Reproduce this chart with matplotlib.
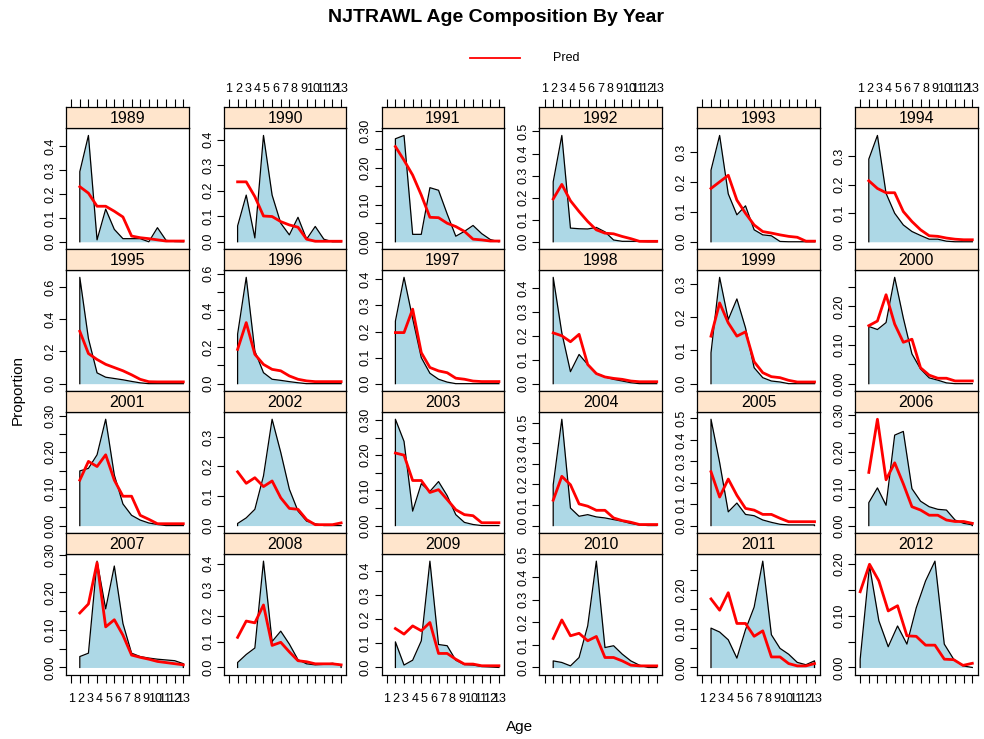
import numpy as np
import matplotlib
matplotlib.use("Agg")
import matplotlib.pyplot as plt
from matplotlib.lines import Line2D

plt.rcParams['font.family'] = ['Liberation Sans', 'DejaVu Sans']

years = [1989, 1990, 1991, 1992, 1993, 1994,
         1995, 1996, 1997, 1998, 1999, 2000,
         2001, 2002, 2003, 2004, 2005, 2006,
         2007, 2008, 2009, 2010, 2011, 2012]

# observed proportions at age (shaded polygon)
obs = [
    [0.294, 0.446, 0.008, 0.137, 0.052, 0.013, 0.013, 0.013, 0.0, 0.059, 0.006, 0.001, 0.0],
    [0.062, 0.183, 0.015, 0.417, 0.183, 0.073, 0.027, 0.096, 0.010, 0.060, 0.010, 0.0, 0.0],
    [0.278, 0.287, 0.02, 0.02, 0.146, 0.139, 0.075, 0.015, 0.028, 0.044, 0.022, 0.006, 0.0],
    [0.272, 0.482, 0.062, 0.059, 0.058, 0.065, 0.045, 0.008, 0.002, 0.002, 0.002, 0.0, 0.0],
    [0.239, 0.355, 0.16, 0.09, 0.12, 0.04, 0.023, 0.02, 0.001, 0.0, 0.0, 0.0, 0.0],
    [0.29, 0.373, 0.17, 0.1, 0.059, 0.036, 0.022, 0.009, 0.009, 0.002, 0.0, 0.0, 0.0],
    [0.66, 0.28, 0.067, 0.04, 0.032, 0.024, 0.014, 0.005, 0.0, 0.0, 0.0, 0.0, 0.0],
    [0.27, 0.58, 0.178, 0.06, 0.024, 0.018, 0.011, 0.005, 0.0, 0.0, 0.0, 0.0, 0.0],
    [0.24, 0.408, 0.25, 0.1, 0.04, 0.017, 0.006, 0.0, 0.0, 0.0, 0.0, 0.0, 0.0],
    [0.444, 0.212, 0.05, 0.122, 0.08, 0.043, 0.028, 0.018, 0.011, 0.004, 0.0, 0.0, 0.0],
    [0.093, 0.32, 0.193, 0.255, 0.168, 0.048, 0.018, 0.008, 0.005, 0.0, 0.0, 0.0, 0.0],
    [0.148, 0.14, 0.158, 0.275, 0.17, 0.077, 0.038, 0.015, 0.009, 0.002, 0.0, 0.0, 0.0],
    [0.149, 0.156, 0.193, 0.29, 0.138, 0.059, 0.028, 0.015, 0.007, 0.003, 0.0, 0.0, 0.0],
    [0.007, 0.026, 0.055, 0.168, 0.36, 0.248, 0.123, 0.049, 0.015, 0.006, 0.0, 0.0, 0.0],
    [0.302, 0.239, 0.041, 0.119, 0.097, 0.125, 0.085, 0.031, 0.009, 0.003, 0.0, 0.0, 0.0],
    [0.198, 0.516, 0.085, 0.045, 0.053, 0.042, 0.037, 0.029, 0.021, 0.01, 0.003, 0.0, 0.0],
    [0.496, 0.294, 0.064, 0.105, 0.052, 0.046, 0.026, 0.015, 0.006, 0.003, 0.003, 0.003, 0.003],
    [0.062, 0.102, 0.055, 0.245, 0.255, 0.1, 0.066, 0.051, 0.044, 0.042, 0.015, 0.006, 0.002],
    [0.029, 0.038, 0.283, 0.156, 0.27, 0.117, 0.038, 0.029, 0.025, 0.022, 0.02, 0.018, 0.01],
    [0.019, 0.05, 0.075, 0.41, 0.1, 0.14, 0.09, 0.03, 0.014, 0.01, 0.012, 0.016, 0.01],
    [0.106, 0.01, 0.03, 0.11, 0.44, 0.095, 0.09, 0.03, 0.012, 0.01, 0.004, 0.002, 0.0],
    [0.029, 0.022, 0.007, 0.044, 0.184, 0.47, 0.088, 0.096, 0.059, 0.029, 0.01, 0.0, 0.0],
    [0.101, 0.091, 0.071, 0.024, 0.097, 0.155, 0.273, 0.084, 0.049, 0.034, 0.013, 0.007, 0.017],
    [0.016, 0.196, 0.09, 0.04, 0.08, 0.045, 0.115, 0.167, 0.205, 0.045, 0.016, 0.003, 0.0],
]

# predicted proportions at age (red line)
pred = [
    [0.231, 0.204, 0.149, 0.149, 0.128, 0.104, 0.024, 0.017, 0.013, 0.008, 0.003, 0.003, 0.003],
    [0.235, 0.235, 0.177, 0.101, 0.099, 0.079, 0.066, 0.057, 0.010, 0.002, 0.002, 0.002, 0.002],
    [0.257, 0.22, 0.18, 0.126, 0.066, 0.065, 0.05, 0.041, 0.028, 0.007, 0.005, 0.002, 0.002],
    [0.194, 0.26, 0.186, 0.137, 0.092, 0.054, 0.039, 0.036, 0.024, 0.014, 0.002, 0.002, 0.002],
    [0.178, 0.2, 0.222, 0.139, 0.095, 0.056, 0.034, 0.029, 0.023, 0.018, 0.015, 0.002, 0.002],
    [0.214, 0.187, 0.172, 0.172, 0.106, 0.071, 0.042, 0.021, 0.019, 0.013, 0.009, 0.007, 0.007],
    [0.325, 0.187, 0.15, 0.12, 0.10, 0.08, 0.055, 0.027, 0.012, 0.011, 0.011, 0.011, 0.011],
    [0.187, 0.333, 0.16, 0.105, 0.078, 0.07, 0.042, 0.024, 0.015, 0.011, 0.011, 0.011, 0.011],
    [0.196, 0.196, 0.286, 0.119, 0.062, 0.049, 0.042, 0.021, 0.017, 0.01, 0.008, 0.008, 0.008],
    [0.212, 0.2, 0.175, 0.206, 0.08, 0.042, 0.028, 0.022, 0.018, 0.011, 0.008, 0.008, 0.008],
    [0.143, 0.243, 0.183, 0.143, 0.156, 0.066, 0.033, 0.021, 0.018, 0.01, 0.005, 0.005, 0.005],
    [0.15, 0.162, 0.23, 0.154, 0.107, 0.115, 0.041, 0.022, 0.014, 0.014, 0.007, 0.007, 0.007],
    [0.124, 0.175, 0.161, 0.193, 0.124, 0.08, 0.08, 0.028, 0.017, 0.005, 0.005, 0.005, 0.005],
    [0.182, 0.143, 0.162, 0.132, 0.151, 0.094, 0.058, 0.055, 0.02, 0.003, 0.003, 0.003, 0.009],
    [0.206, 0.2, 0.128, 0.128, 0.094, 0.102, 0.074, 0.045, 0.031, 0.028, 0.008, 0.008, 0.008],
    [0.123, 0.239, 0.198, 0.105, 0.094, 0.074, 0.074, 0.037, 0.024, 0.016, 0.005, 0.005, 0.005],
    [0.251, 0.133, 0.217, 0.141, 0.08, 0.072, 0.052, 0.052, 0.034, 0.018, 0.018, 0.018, 0.018],
    [0.144, 0.288, 0.124, 0.17, 0.113, 0.051, 0.042, 0.028, 0.028, 0.015, 0.011, 0.011, 0.006],
    [0.145, 0.169, 0.279, 0.108, 0.127, 0.086, 0.033, 0.027, 0.022, 0.016, 0.013, 0.01, 0.007],
    [0.116, 0.179, 0.172, 0.241, 0.085, 0.097, 0.06, 0.026, 0.022, 0.014, 0.014, 0.014, 0.01],
    [0.161, 0.138, 0.172, 0.152, 0.186, 0.058, 0.058, 0.034, 0.014, 0.014, 0.007, 0.007, 0.007],
    [0.128, 0.21, 0.14, 0.151, 0.118, 0.137, 0.044, 0.044, 0.029, 0.01, 0.007, 0.007, 0.007],
    [0.176, 0.147, 0.192, 0.113, 0.113, 0.08, 0.094, 0.027, 0.027, 0.01, 0.004, 0.004, 0.01],
    [0.146, 0.199, 0.167, 0.109, 0.119, 0.061, 0.06, 0.043, 0.043, 0.016, 0.015, 0.004, 0.008],
]

ages = list(range(1, 14))
age_ticks = list(range(0, 14))
age_labels = [str(a) for a in range(1, 14)]

W, H = 984, 739
fig = plt.figure(figsize=(W / 100, H / 100), dpi=100)


def rect(x0, y0, w, h):
    return [x0 / W, 1 - (y0 + h) / H, w / W, h / H]


def pretty_step(lo, hi, n=5):
    # R's pretty() unit selection
    cell = (hi - lo) / n
    U = 10 ** np.floor(np.log10(cell))
    unit = U
    if 2 * U - cell < 1.5 * (cell - unit):
        unit = 2 * U
        if 5 * U - cell < 2.75 * (cell - unit):
            unit = 5 * U
            if 10 * U - cell < 1.5 * (cell - unit):
                unit = 10 * U
    return unit


def age_axis(a, side, labelled, pad):
    a.xaxis.remove_overlapping_locs = False
    a.xaxis.set_ticks_position(side)
    a.set_xticks(age_ticks)
    a.set_xticklabels([])
    a.tick_params(axis='x', which='major', length=5.5, width=0.8)
    if labelled:
        a.set_xticks(np.linspace(0, 13, 13), minor=True)
        a.set_xticklabels(age_labels, minor=True)
        a.tick_params(axis='x', which='minor', length=0, labelsize=9, pad=pad)


col_x0, col_dx, pw = 66.0, 157.8, 122.5
row_y0, row_dy, sh = 107.3, 141.9, 20.7
ph = row_dy - sh

ylabel_axes = []
for i, yr in enumerate(years):
    r, c = divmod(i, 6)
    x0 = col_x0 + c * col_dx
    y0 = row_y0 + r * row_dy
    ax = fig.add_axes(rect(x0, y0 + sh, pw, ph))
    st = fig.add_axes(rect(x0, y0, pw, sh))

    o = np.array(obs[i])
    p = np.array(pred[i])
    xs = np.linspace(0, 13, 13) if yr == 2012 else np.array(ages, float)
    ax.fill_between(xs, 0, o, color='#ADD8E6', lw=0)
    ax.plot(np.r_[xs[0], xs, xs[-1]], np.r_[0, o, 0], color='black', lw=0.9)
    ax.plot(xs, p, color='red', lw=2.0, solid_joinstyle='round')

    top = max(o.max(), p.max())
    ax.set_xlim(-0.6, 13.6)
    ax.set_ylim(-0.07 * top, 1.07 * top)
    step = pretty_step(-0.07 * top, 1.07 * top)
    tv = np.arange(0, 1.07 * top + 1e-9, step)
    dec = max(0, int(-np.floor(np.log10(step) + 1e-9)))
    ax.set_yticks(tv)
    ax.set_yticklabels([f"{v:.{dec}f}" for v in tv], rotation=90, va='center')
    ax.tick_params(axis='y', length=5, width=0.8, labelsize=9, pad=2)
    ylabel_axes.append(ax)

    if r == 3:
        age_axis(ax, 'bottom', c % 2 == 0, 13)
    else:
        ax.set_xticks([])

    st.set_xlim(-0.6, 13.6)
    st.set_yticks([])
    st.set_facecolor('#FFE5CC')
    st.text(0.5, 0.45, str(yr), transform=st.transAxes, ha='center', va='center', fontsize=11.5)
    if r == 0:
        age_axis(st, 'top', c % 2 == 1, 8.5)
    else:
        st.set_xticks([])
    for a in (ax, st):
        for s in a.spines.values():
            s.set_linewidth(0.9)

# drop y labels that run into a lower one (like grid check.overlap)
fig.canvas.draw()
rend = fig.canvas.get_renderer()
for ax in ylabel_axes:
    last = None
    for lab in ax.get_yticklabels():
        bb = lab.get_window_extent(rend)
        if last is not None and bb.y0 < last.y1 + 2:
            lab.set_visible(False)
        else:
            last = bb

fig.text(496 / W, 1 - 17 / H, 'NJTRAWL Age Composition By Year', ha='center', va='center',
         fontsize=14, fontweight='bold')
fig.add_artist(Line2D([470 / W, 520 / W], [1 - 58 / H, 1 - 58 / H], color='red', lw=1.3))
fig.text(553 / W, 1 - 58 / H, 'Pred', ha='left', va='center', fontsize=9)
fig.text(520 / W, 1 - 727 / H, 'Age', ha='center', va='center', fontsize=11)
fig.text(18 / W, 1 - 390 / H, 'Proportion', ha='center', va='center', rotation=90, fontsize=11)

fig.savefig('out.png', dpi=100)
